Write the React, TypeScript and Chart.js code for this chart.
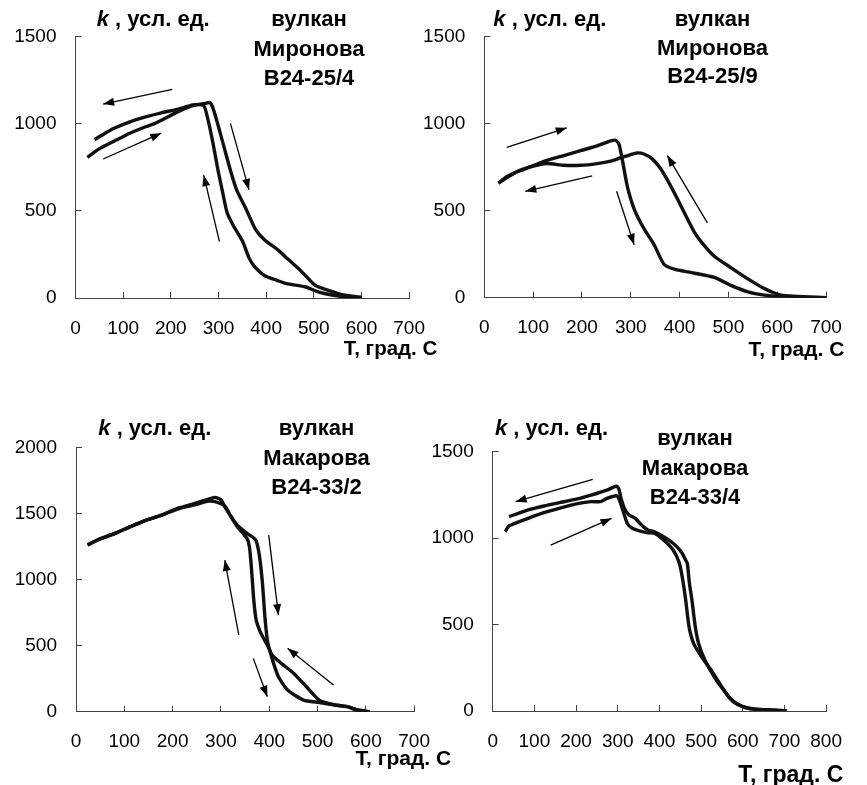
import React, { useEffect, useRef } from "react";
import { Chart, registerables } from "chart.js";

Chart.register(...registerables);

const FONT = "'Liberation Sans', Arial, Helvetica, sans-serif";

// ---------- tick values ----------
const xTicks700 = [0, 100, 200, 300, 400, 500, 600, 700];
const xTicks800 = [0, 100, 200, 300, 400, 500, 600, 700, 800];
const yTicks1500 = [0, 500, 1000, 1500];
const yTicks2000 = [0, 500, 1000, 1500, 2000];

// ---------- Panel 1: вулкан Миронова В24-25/4 ----------
const p1HeatT = [25, 48, 81, 114, 147, 167, 180, 213, 246, 272, 282, 289, 299, 312, 325, 338, 358, 377, 397, 424, 443, 476, 503, 529, 562, 601];
const p1HeatK = [806, 852, 899, 945, 982, 1001, 1019, 1066, 1103, 1116, 1121, 1084, 992, 862, 732, 620, 509, 397, 332, 277, 230, 147, 72, 45, 17, 2];
const p1CoolT = [601, 562, 522, 509, 483, 443, 424, 397, 377, 364, 351, 331, 318, 309, 299, 289, 279, 269, 246, 213, 180, 147, 114, 81, 62, 40];
const p1CoolK = [2, 7, 26, 35, 63, 82, 100, 128, 175, 230, 323, 416, 490, 602, 732, 880, 1010, 1103, 1107, 1081, 1062, 1038, 1010, 973, 945, 908];
const p1Arrows = [
  [203, 1196, 58, 1112],
  [58, 797, 180, 945],
  [325, 1001, 364, 620],
  [302, 323, 269, 704],
];

// ---------- Panel 2: вулкан Миронова В24-25/9 ----------
const p2HeatT = [29, 46, 67, 94, 128, 163, 197, 231, 259, 269, 276, 283, 293, 307, 327, 348, 368, 389, 423, 471, 505, 540, 574, 608, 643, 703];
const p2HeatK = [658, 695, 723, 751, 788, 816, 844, 872, 900, 904, 881, 788, 639, 509, 397, 304, 192, 164, 145, 117, 71, 34, 15, 6, 1, 0];
const p2CoolT = [703, 608, 574, 540, 505, 471, 444, 430, 416, 396, 375, 361, 344, 327, 313, 300, 279, 259, 231, 197, 163, 128, 94, 67, 39, 29];
const p2CoolK = [0, 15, 52, 108, 173, 238, 322, 378, 453, 565, 676, 742, 797, 825, 831, 822, 803, 784, 770, 760, 760, 770, 751, 723, 676, 658];
const p2Arrows = [
  [46, 863, 169, 975],
  [221, 699, 84, 611],
  [271, 611, 307, 304],
  [457, 430, 375, 816],
];

// ---------- Panel 3: вулкан Макарова В24-33/2 ----------
const p3HeatT = [24, 47, 80, 112, 145, 177, 210, 243, 275, 288, 300, 308, 321, 334, 354, 367, 373, 380, 386, 391, 396, 399, 409, 419, 438, 471, 504, 536, 562, 582, 608];
const p3HeatK = [1263, 1306, 1351, 1402, 1452, 1490, 1540, 1575, 1610, 1624, 1605, 1553, 1477, 1414, 1351, 1320, 1295, 1174, 972, 720, 543, 492, 366, 265, 164, 88, 70, 51, 38, 13, 0];
const p3CoolT = [608, 582, 562, 536, 504, 477, 451, 425, 406, 396, 383, 373, 368, 363, 359, 354, 334, 321, 308, 288, 275, 243, 210, 177, 145, 112, 80, 47, 24];
const p3CoolK = [0, 13, 38, 51, 85, 189, 290, 366, 429, 505, 593, 694, 846, 1098, 1250, 1313, 1401, 1477, 1558, 1591, 1595, 1565, 1535, 1488, 1450, 1400, 1349, 1304, 1263];
const p3Arrows = [
  [337, 581, 308, 1149],
  [399, 1338, 419, 732],
  [367, 404, 396, 114],
  [533, 202, 438, 480],
];

// ---------- Panel 4: вулкан Макарова В24-33/4 ----------
const p4HeatT = [30, 39, 85, 123, 160, 198, 236, 259, 274, 297, 304, 312, 323, 335, 350, 372, 388, 410, 433, 448, 456, 463, 471, 482, 501, 524, 547, 569, 600, 630, 705];
const p4HeatK = [1037, 1070, 1114, 1147, 1172, 1197, 1211, 1211, 1230, 1245, 1220, 1163, 1085, 1057, 1043, 1031, 1028, 989, 931, 854, 758, 642, 488, 391, 314, 237, 150, 73, 25, 10, 2];
const p4CoolT = [705, 630, 600, 577, 554, 531, 509, 494, 486, 478, 472, 467, 463, 452, 433, 410, 388, 372, 357, 342, 327, 316, 308, 303, 297, 289, 274, 236, 198, 160, 123, 85, 39];
const p4CoolK = [2, 10, 25, 54, 121, 199, 295, 391, 488, 642, 738, 854, 873, 922, 970, 1008, 1037, 1047, 1076, 1114, 1134, 1172, 1230, 1282, 1301, 1294, 1278, 1249, 1224, 1205, 1186, 1163, 1124];
const p4Arrows = [
  [240, 1340, 55, 1211],
  [139, 960, 285, 1114],
];

type PanelCfg = {
  cx: number; cy: number; w: number; h: number;
  padR: number; padT: number; yAxisW: number; xAxisH: number;
  xMax: number; yMax: number; xTicks: number[]; yTicks: number[];
  heatT: number[]; heatK: number[]; coolT: number[]; coolK: number[];
  arrows: number[][];
  kX: number; kY: number;
  titleLines: string[]; titleX: number; titleY: number[];
  xtX: number; xtY: number; xtSize: number;
};

const panels: PanelCfg[] = [
  {
    cx: 0, cy: 0, w: 450, h: 400, padR: 20, padT: 29.3, yAxisW: 75.5, xAxisH: 102,
    xMax: 700, yMax: 1500, xTicks: xTicks700, yTicks: yTicks1500,
    heatT: p1HeatT, heatK: p1HeatK, coolT: p1CoolT, coolK: p1CoolK, arrows: p1Arrows,
    kX: 96.7, kY: 26,
    titleLines: ["вулкан", "Миронова", "В24-25/4"], titleX: 309, titleY: [26, 56, 85],
    xtX: 390.5, xtY: 355, xtSize: 20.5,
  },
  {
    cx: 400, cy: 0, w: 467, h: 400, padR: 41, padT: 29.3, yAxisW: 84.3, xAxisH: 102.3,
    xMax: 700, yMax: 1500, xTicks: xTicks700, yTicks: yTicks1500,
    heatT: p2HeatT, heatK: p2HeatK, coolT: p2CoolT, coolK: p2CoolK, arrows: p2Arrows,
    kX: 493.3, kY: 26,
    titleLines: ["вулкан", "Миронова", "В24-25/9"], titleX: 712.5, titleY: [26, 55, 83],
    xtX: 796.5, xtY: 356, xtSize: 21,
  },
  {
    cx: 0, cy: 390, w: 455, h: 395, padR: 21, padT: 57.7, yAxisW: 76, xAxisH: 73.3,
    xMax: 700, yMax: 2000, xTicks: xTicks700, yTicks: yTicks2000,
    heatT: p3HeatT, heatK: p3HeatK, coolT: p3CoolT, coolK: p3CoolK, arrows: p3Arrows,
    kX: 98.3, kY: 435,
    titleLines: ["вулкан", "Макарова", "В24-33/2"], titleX: 316.5, titleY: [435, 465, 494],
    xtX: 403.3, xtY: 765, xtSize: 21,
  },
  {
    cx: 420, cy: 390, w: 447, h: 395, padR: 22, padT: 61.7, yAxisW: 72.7, xAxisH: 74,
    xMax: 800, yMax: 1500, xTicks: xTicks800, yTicks: yTicks1500,
    heatT: p4HeatT, heatK: p4HeatK, coolT: p4CoolT, coolK: p4CoolK, arrows: p4Arrows,
    kX: 495, kY: 435,
    titleLines: ["вулкан", "Макарова", "В24-33/4"], titleX: 695, titleY: [445, 475, 504],
    xtX: 790.8, xtY: 781.5, xtSize: 23,
  },
];

function pts(T: number[], K: number[]) {
  return T.map((t, i) => ({ x: t, y: K[i] }));
}

const arrowHeadPlugin = {
  id: "arrowHeads",
  afterDatasetsDraw(chart: any) {
    const ctx = chart.ctx;
    chart.data.datasets.forEach((ds: any, i: number) => {
      if (!ds.isArrow) return;
      const meta = chart.getDatasetMeta(i);
      const a = meta.data[0];
      const b = meta.data[meta.data.length - 1];
      if (!a || !b) return;
      const ang = Math.atan2(b.y - a.y, b.x - a.x);
      const L = 11;
      const W = 4;
      const c = Math.cos(ang);
      const s = Math.sin(ang);
      ctx.save();
      ctx.fillStyle = "#000";
      ctx.beginPath();
      ctx.moveTo(b.x, b.y);
      ctx.lineTo(b.x - L * c + W * s, b.y - L * s - W * c);
      ctx.lineTo(b.x - L * c - W * s, b.y - L * s + W * c);
      ctx.closePath();
      ctx.fill();
      ctx.restore();
    });
  },
};

function makeTextPlugin(cfg: PanelCfg) {
  return {
    id: "panelText",
    afterDraw(chart: any) {
      const ctx = chart.ctx;
      ctx.save();
      ctx.fillStyle = "#000";
      ctx.textBaseline = "alphabetic";
      // y-axis label
      ctx.textAlign = "left";
      let x = cfg.kX - cfg.cx;
      const y = cfg.kY - cfg.cy;
      ctx.font = `italic bold 22px ${FONT}`;
      ctx.fillText("k", x, y);
      x += ctx.measureText("k").width;
      ctx.font = `bold 22px ${FONT}`;
      ctx.fillText(" , усл. ед.", x, y);
      // sample title
      ctx.textAlign = "center";
      cfg.titleLines.forEach((t, i) => {
        ctx.fillText(t, cfg.titleX - cfg.cx, cfg.titleY[i] - cfg.cy);
      });
      // x-axis label
      ctx.font = `bold ${cfg.xtSize}px ${FONT}`;
      ctx.fillText("Т, град. С", cfg.xtX - cfg.cx, cfg.xtY - cfg.cy);
      ctx.restore();
    },
  };
}

function Panel({ cfg }: { cfg: PanelCfg }) {
  const ref = useRef<HTMLCanvasElement>(null);
  useEffect(() => {
    const curveStyle = {
      showLine: true,
      pointRadius: 0,
      pointHoverRadius: 0,
      borderColor: "#111",
      borderWidth: 3.4,
      tension: 0.2,
      fill: false,
    };
    const datasets: any[] = [
      { ...curveStyle, label: "нагрев", data: pts(cfg.heatT, cfg.heatK) },
      { ...curveStyle, label: "охлаждение", data: pts(cfg.coolT, cfg.coolK) },
      ...cfg.arrows.map((a, i) => ({
        label: "arrow" + i,
        isArrow: true,
        showLine: true,
        pointRadius: 0,
        pointHoverRadius: 0,
        borderColor: "#000",
        borderWidth: 1.3,
        tension: 0,
        data: [
          { x: a[0], y: a[1] },
          { x: a[2], y: a[3] },
        ],
      })),
    ];
    const tickFont = { family: FONT, size: 19 };
    const grid = {
      drawOnChartArea: false,
      drawTicks: true,
      tickLength: -6,
      color: "#444",
      lineWidth: 1,
    };
    const border = { display: true, color: "#444", width: 1 };
    const chart = new Chart(ref.current as HTMLCanvasElement, {
      type: "scatter",
      data: { datasets },
      options: {
        animation: false,
        responsive: false,
        maintainAspectRatio: false,
        events: [],
        layout: { padding: { left: 0, top: cfg.padT, right: cfg.padR, bottom: 0 } },
        plugins: {
          legend: { display: false },
          tooltip: { enabled: false },
          title: { display: false },
        },
        scales: {
          x: {
            type: "linear",
            min: 0,
            max: cfg.xMax,
            afterBuildTicks: (s: any) => {
              s.ticks = cfg.xTicks.map((v) => ({ value: v }));
            },
            afterFit: (s: any) => {
              s.height = cfg.xAxisH;
            },
            ticks: {
              autoSkip: false,
              maxRotation: 0,
              minRotation: 0,
              padding: 25,
              color: "#000",
              font: tickFont,
              callback: (v: any) => String(v),
            },
            grid,
            border,
          },
          y: {
            type: "linear",
            min: 0,
            max: cfg.yMax,
            afterBuildTicks: (s: any) => {
              s.ticks = cfg.yTicks.map((v) => ({ value: v }));
            },
            afterFit: (s: any) => {
              s.width = cfg.yAxisW;
            },
            ticks: {
              autoSkip: false,
              padding: 25,
              color: "#000",
              font: tickFont,
              callback: (v: any) => String(v),
            },
            grid,
            border,
          },
        },
      } as any,
      plugins: [arrowHeadPlugin, makeTextPlugin(cfg)],
    });
    return () => chart.destroy();
  }, [cfg]);
  return (
    <canvas
      ref={ref}
      width={cfg.w}
      height={cfg.h}
      style={{ position: "absolute", left: cfg.cx, top: cfg.cy, width: cfg.w, height: cfg.h }}
    />
  );
}

export default function App() {
  return (
    <div
      style={{
        position: "absolute",
        left: 0,
        top: 0,
        width: 867,
        height: 785,
        background: "#fff",
        overflow: "hidden",
      }}
    >
      {panels.map((p, i) => (
        <Panel key={i} cfg={p} />
      ))}
    </div>
  );
}
